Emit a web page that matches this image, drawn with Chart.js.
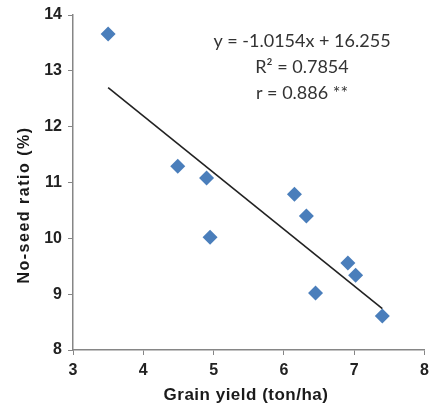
<!DOCTYPE html>
<html>
<head>
<meta charset="utf-8">
<script src="https://cdn.jsdelivr.net/npm/chart.js@4/dist/chart.umd.min.js"></script>
<style>
  html, body { margin: 0; padding: 0; background: #fff; }
  #wrap { width: 432px; height: 407px; position: relative; }
</style>
</head>
<body>
<div id="wrap"><canvas id="chart"></canvas></div>
<script>
// valores
const grainYield = [3.50, 4.49, 4.90, 4.95, 6.15, 6.32, 6.45, 6.91, 7.02, 7.40];
const noSeedRatio = [13.66, 11.29, 11.08, 10.02, 10.79, 10.40, 9.02, 9.56, 9.34, 8.61];
const xTicks = [3, 4, 5, 6, 7, 8];
const yTicks = [8, 9, 10, 11, 12, 13, 14];
const slope = -1.0154;
const intercept = 16.255;
const statLines = ['y = -1.0154x + 16.255', 'R² = 0.7854', 'r = 0.886 **'];

const xMin = Math.min(...grainYield);
const xMax = Math.max(...grainYield);
const trend = [xMin, xMax].map(x => ({ x: x, y: slope * x + intercept }));
const puntos = grainYield.map((x, i) => ({ x: x, y: noSeedRatio[i] }));

const axisGray = '#868686';
const tickFont = { family: 'Liberation Sans', size: 16, weight: 'bold' };

// titulos y ecuacion
const textos = {
    id: 'textos',
    afterDraw(chart) {
        const ctx = chart.ctx;
        ctx.save();
        ctx.fillStyle = '#1a1a1a';
        ctx.font = 'bold 17px "Liberation Sans"';
        ctx.letterSpacing = '0.5px';
        ctx.textAlign = 'center';
        ctx.textBaseline = 'middle';
        ctx.fillText('Grain yield (ton/ha)', 246, 395);

        ctx.font = 'bold 16px "Liberation Sans"';
        ctx.letterSpacing = '1.5px';
        ctx.translate(25, 205);
        ctx.rotate(-Math.PI / 2);
        ctx.fillText('No-seed ratio (%)', 0, 0);
        ctx.restore();

        ctx.save();
        ctx.fillStyle = '#333';
        ctx.font = '18px Lato';
        ctx.textAlign = 'center';
        ctx.textBaseline = 'middle';
        statLines.forEach((t, i) => ctx.fillText(t, 302, 41 + i * 26));
        ctx.restore();
    }
};

const ctx = document.getElementById('chart').getContext('2d');
new Chart(ctx, {
    type: 'scatter',
    data: {
        datasets: [{
            label: 'datos',
            data: puntos,
            pointStyle: 'rectRot',
            pointRadius: 7.5,
            pointHoverRadius: 7.5,
            backgroundColor: '#4A7EBB',
            borderColor: '#4A7EBB',
            borderWidth: 0
        }, {
            label: 'tendencia',
            type: 'line',
            data: trend,
            borderColor: '#222',
            borderWidth: 1.6,
            pointRadius: 0,
            fill: false
        }]
    },
    options: {
        responsive: true,
        maintainAspectRatio: false,
        animation: false,
        layout: { padding: { top: 15, right: 7, left: 0, bottom: 0 } },
        plugins: { legend: { display: false }, tooltip: { enabled: false } },
        scales: {
            x: {
                type: 'linear',
                min: xTicks[0],
                max: xTicks[xTicks.length - 1],
                afterBuildTicks: s => { s.ticks = xTicks.map(v => ({ value: v })); },
                afterFit: s => { s.height = 57; s.paddingRight = 0; s.paddingLeft = 0; },
                border: { color: axisGray, width: 1.5 },
                grid: { drawOnChartArea: false, drawTicks: true, tickLength: 5, color: axisGray },
                ticks: { font: tickFont, color: '#222', padding: 6 }
            },
            y: {
                type: 'linear',
                min: yTicks[0],
                max: yTicks[yTicks.length - 1],
                afterBuildTicks: s => { s.ticks = yTicks.map(v => ({ value: v })); },
                afterFit: s => { s.width = 73; s.paddingTop = 0; s.paddingBottom = 0; },
                border: { color: axisGray, width: 1.5 },
                grid: { drawOnChartArea: false, drawTicks: true, tickLength: 5, color: axisGray },
                ticks: { font: tickFont, color: '#222', padding: 6 }
            }
        }
    },
    plugins: [textos]
});
</script>
</body>
</html>
